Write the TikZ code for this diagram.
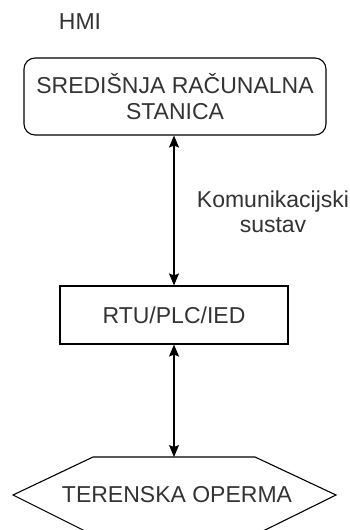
\documentclass[tikz,border=0pt]{standalone}
\usepackage{fontspec}
\setmainfont{Liberation Sans}
\usetikzlibrary{arrows.meta}
\definecolor{txt}{HTML}{333333}
\tikzset{
  lbl/.style={text=txt, font=\fontsize{23}{25.5}\selectfont, align=center, inner sep=0pt},
  box/.style={draw=black, line width=1.1pt, text=txt, font=\fontsize{23}{25.5}\selectfont, align=center, inner sep=0pt},
  conn/.style={draw=black, line width=1.1pt, {Stealth[length=12pt,width=10pt,inset=2pt]}-{Stealth[length=12pt,width=10pt,inset=2pt]}}
}
\begin{document}
\begin{tikzpicture}[x=1pt,y=-1pt]
\useasboundingbox (0,0) rectangle (350,530);
\node[lbl] (hmi) at (80,22) {HMI};
\node[box, rounded corners=11pt, minimum width=302pt, minimum height=77pt] (top) at (175,96.5) {SREDIŠNJA RAČUNALNA\\STANICA};
\node[box, minimum width=228pt, minimum height=58pt] (rtu) at (174,315) {RTU/PLC/IED};
\node[lbl] (kom) at (273,212) {Komunikacijski\\sustav};
\draw[line width=1.1pt, black] (93,457) -- (255,457) -- (336,495) -- (255,535) -- (93,535) -- (13,495) -- cycle;
\node[lbl] (ter) at (177,495) {TERENSKA OPERMA};
\coordinate (hextop) at (174,457);
\draw[conn] (top.south -| rtu.north) -- (rtu.north);
\draw[conn] (rtu.south) -- (hextop);
\end{tikzpicture}
\end{document}
